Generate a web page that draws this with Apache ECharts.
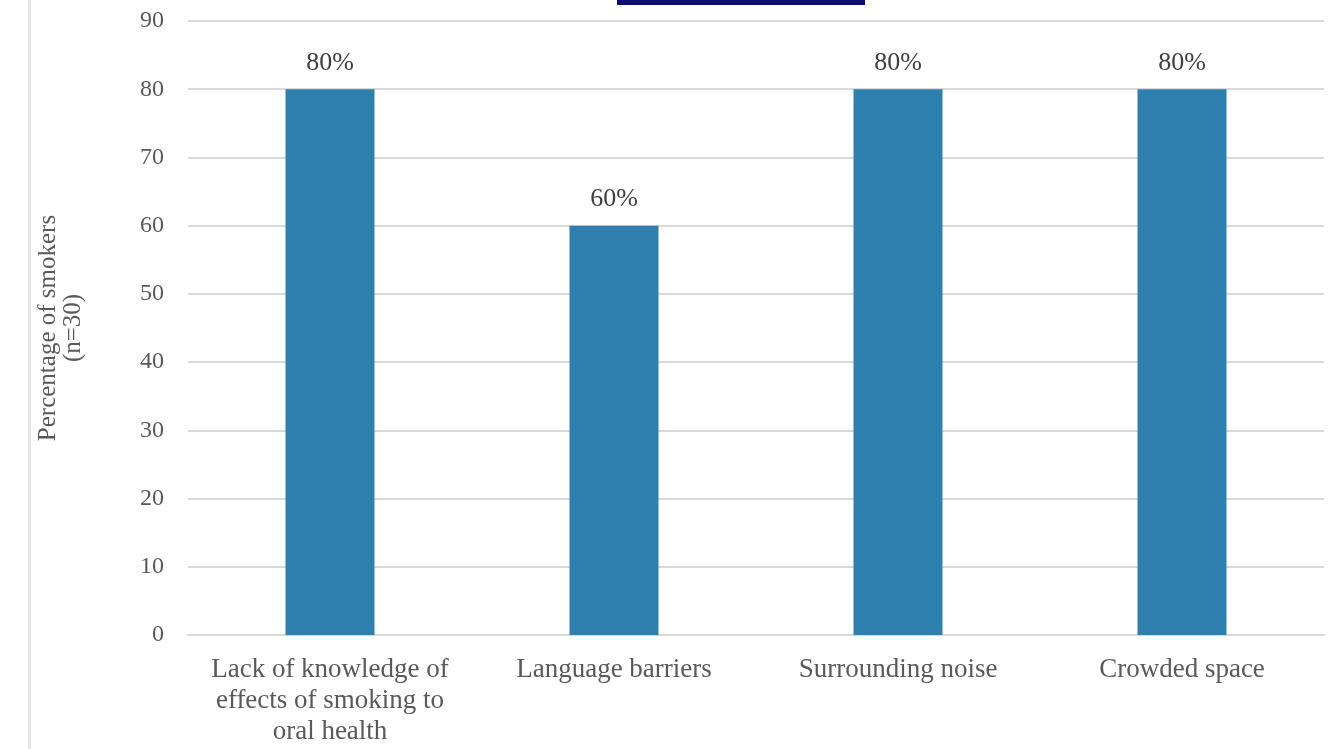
<!DOCTYPE html>
<html><head><meta charset="utf-8">
<script src="https://cdn.jsdelivr.net/npm/echarts@6/dist/echarts.min.js"></script>
<style>html,body{margin:0;padding:0;background:#fff}#c{width:1331px;height:749px}</style>
</head><body><div id="c"></div>
<script>
const categories = ["Lack of knowledge of\neffects of smoking to\noral health", "Language barriers", "Surrounding noise", "Crowded space"];
const values = [80, 60, 80, 80];
const valueLabels = ["80%", "60%", "80%", "80%"];
const yAxisTitle = "Percentage of smokers\n(n=30)";

const chart = echarts.init(document.getElementById('c'));
const font = '"Liberation Serif", "DejaVu Serif", serif';
chart.setOption({
  animation: false,
  grid: {left: 188, right: 7, top: 21, bottom: 114, containLabel: false},
  xAxis: {
    type: 'category', data: categories,
    axisLine: {lineStyle: {color: '#d9d9d9', width: 2}},
    axisTick: {show: false},
    axisLabel: {fontFamily: font, fontSize: 27, color: '#595959', lineHeight: 31, margin: 19, interval: 0}
  },
  yAxis: {
    type: 'value', min: 0, max: 90, interval: 10,
    name: yAxisTitle, nameLocation: 'middle', nameGap: 102, nameRotate: 90,
    nameTextStyle: {fontFamily: font, fontSize: 25, color: '#595959', lineHeight: 25},
    axisLine: {show: false}, axisTick: {show: false},
    axisLabel: {fontFamily: font, fontSize: 24, color: '#595959', margin: 24},
    splitLine: {lineStyle: {color: '#d9d9d9', width: 2}}
  },
  series: [{
    type: 'bar', data: values, barWidth: 89,
    itemStyle: {color: '#2e7fae'},
    label: {show: true, position: 'top', distance: 13, fontFamily: font, fontSize: 26, color: '#404040',
      formatter: p => valueLabels[p.dataIndex]}
  }],
  graphic: [
    {type: 'rect', shape: {x: 617, y: 0, width: 248, height: 5}, style: {fill: '#0d0d6b'}},
    {type: 'rect', shape: {x: 28, y: 0, width: 3, height: 749}, style: {fill: '#e6e6e6'}}
  ]
});
</script></body></html>
